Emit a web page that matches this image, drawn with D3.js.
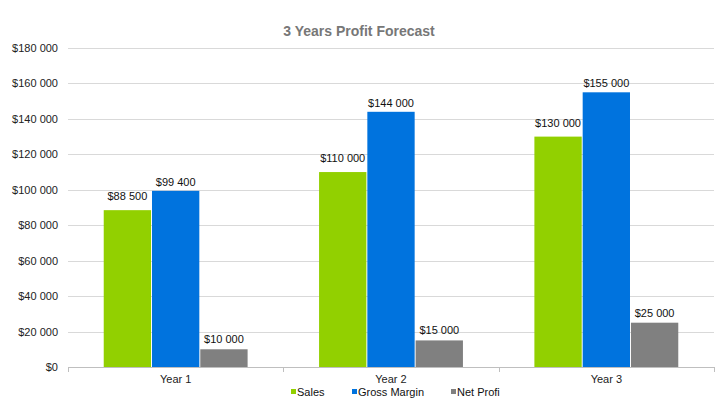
<!DOCTYPE html>
<html><head><meta charset="utf-8">
<script src="https://cdn.jsdelivr.net/npm/d3@7"></script>
<style>body{margin:0;background:#fff}svg{display:block;font-family:"Liberation Sans",Arial,sans-serif}</style>
</head><body><svg id="c" width="722" height="416"></svg>
<script>
const categories = ["Year 1", "Year 2", "Year 3"];
const seriesNames = ["Sales", "Gross Margin", "Net Profi"];
const sales = [88500, 110000, 130000];
const grossMargin = [99400, 144000, 155000];
const netProfit = [10000, 15000, 25000];
const yTicks = [0, 20000, 40000, 60000, 80000, 100000, 120000, 140000, 160000, 180000];
const colors = ["#92d000", "#0073de", "#808080"];

const series = [sales, grossMargin, netProfit];
const labelGap = [10, 5, 6];
const svg = d3.select("#c");
const L = 68, R = 714, T = 48, B = 367;
const fmt = v => "$" + d3.format(",")(v).replace(/,/g, " ");

const x = d3.scaleBand().domain(categories).range([L, R]).paddingInner(0).paddingOuter(0);
const y = d3.scaleLinear().domain([0, 180000]).range([B, T]);
const xs = d3.scaleBand().domain(d3.range(3)).range([0, x.bandwidth()]).paddingInner(0.02).paddingOuter(0.74);

// gridlines
svg.append("g").selectAll("line").data(yTicks.slice(1)).join("line")
  .attr("x1", L).attr("x2", R).attr("y1", d => Math.round(y(d)) + 0.5).attr("y2", d => Math.round(y(d)) + 0.5)
  .attr("stroke", "#d9d9d9");

// y axis labels
const yAxis = d3.axisLeft(y).tickValues(yTicks).tickFormat(fmt).tickSize(0).tickPadding(10);
const gy = svg.append("g").attr("transform", `translate(${L},0)`).call(yAxis);
gy.select(".domain").remove();
gy.selectAll("text").attr("font-size", 11).attr("fill", "#222").attr("font-family", "Liberation Sans, Arial, sans-serif");

// x axis
const xAxis = d3.axisBottom(x).tickSize(0).tickPadding(8);
const gx = svg.append("g").attr("transform", `translate(0,${B + 0.5})`).call(xAxis);
gx.select(".domain").attr("stroke", "#bfbfbf").attr("d", `M${L},0H${R}`);
gx.selectAll("text").attr("font-size", 11).attr("fill", "#222").attr("font-family", "Liberation Sans, Arial, sans-serif");
svg.append("g").selectAll("line").data([L, L + x.bandwidth(), L + 2 * x.bandwidth(), R]).join("line")
  .attr("x1", d => Math.round(d) + 0.5).attr("x2", d => Math.round(d) + 0.5)
  .attr("y1", B).attr("y2", B + 5).attr("stroke", "#bfbfbf");

// bars
const groups = svg.append("g").selectAll("g").data(categories).join("g")
  .attr("transform", d => `translate(${x(d)},0)`);
groups.each(function(cat, ci) {
  const g = d3.select(this);
  series.forEach((s, si) => {
    const v = s[ci];
    g.append("rect").attr("x", xs(si)).attr("width", xs.bandwidth())
      .attr("y", y(v)).attr("height", B - y(v)).attr("fill", colors[si]);
    g.append("text").attr("x", xs(si) + xs.bandwidth() / 2).attr("y", y(v) - labelGap[si])
      .attr("text-anchor", "middle").attr("font-size", 11).attr("fill", "#111").text(fmt(v));
  });
});

// title
svg.append("text").attr("x", 359).attr("y", 36).attr("text-anchor", "middle")
  .attr("font-size", 14).attr("font-weight", "bold").attr("fill", "#777")
  .text("3 Years Profit Forecast");

// legend
const legX = [291, 352, 451];
const leg = svg.append("g").selectAll("g").data(seriesNames).join("g")
  .attr("transform", (d, i) => `translate(${legX[i]},392)`);
leg.append("rect").attr("x", 0).attr("y", -3).attr("width", 5).attr("height", 5).attr("fill", (d, i) => colors[i]);
leg.append("text").attr("x", 6).attr("y", 4).attr("font-size", 11).attr("fill", "#111").text(d => d);
</script></body></html>
